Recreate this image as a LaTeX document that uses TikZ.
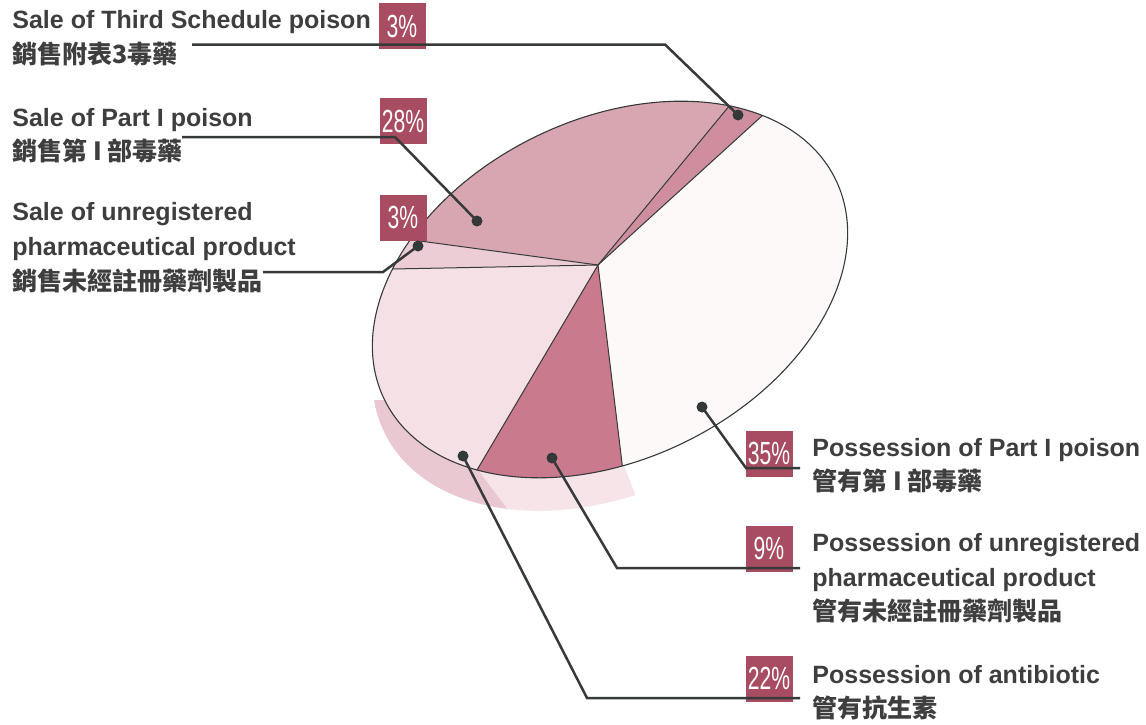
\documentclass[tikz,border=0pt]{standalone}
\usepackage{fontspec}
\setmainfont{Liberation Sans}
\newfontfamily\cjk{Noto Sans CJK TC}
\newfontfamily\narrowf[FakeStretch=0.66]{Liberation Sans}
\definecolor{txt}{RGB}{62,62,62}
\definecolor{boxc}{RGB}{168,76,98}
\definecolor{linec}{RGB}{55,58,58}
\definecolor{dotc}{RGB}{50,55,55}
\definecolor{cA}{RGB}{216,166,177}% 28%
\definecolor{cB}{RGB}{206,142,158}% 3% third
\definecolor{cC}{RGB}{253,249,249}% 35%
\definecolor{cD}{RGB}{202,122,141}% 9%
\definecolor{cE}{RGB}{244,224,229}% 22%
\definecolor{cF}{RGB}{236,205,213}% 3% unreg
\definecolor{shA}{RGB}{234,200,210}
\definecolor{shB}{RGB}{246,228,233}
\begin{document}
\begin{tikzpicture}[x=0.5pt,y=-0.5pt,
  en/.style={anchor=base west,inner sep=0,text=txt,font=\fontsize{12.5}{15}\selectfont\bfseries},
  zh/.style={anchor=base west,inner sep=0,text=txt,font=\fontsize{12.5}{15}\selectfont\cjk\bfseries},
  pct/.style={fill=boxc,text=white,minimum width=23.5pt,minimum height=23pt,inner sep=0,font=\fontsize{16}{18}\selectfont\narrowf},
  dot/.style={circle,fill=dotc,inner sep=0,minimum size=5.5pt},
  leader/.style={draw=linec,line width=1.25pt},
  rim/.style={draw=linec,line width=0.55pt},
  sliceline/.style={draw=linec,line width=0.5pt},
  pieshape/.style={rotate around={26:(610,289.5)}}]
\useasboundingbox (0,0) rectangle (1146,724);
\fill[white] (0,0) rectangle (1146,724);

% extrusion / shadow
\begin{scope}
  \clip (340,400) -- (447,400) -- (447,428) -- (522,528) -- (340,528) -- cycle;
  \fill[shA,rotate around={26:(610,322.5)}] (610,322.5) ellipse [x radius=251,y radius=170];
\end{scope}
\begin{scope}
  \clip (447,428) -- (447,300) -- (620,300) -- (620,455) -- (645,520) -- (522,528) -- cycle;
  \fill[shB,rotate around={26:(610,322.5)}] (610,322.5) ellipse [x radius=251,y radius=170];
\end{scope}

% pie
\coordinate (A) at (598,265);
\coordinate (E1) at (1093,-185);
\coordinate (E2) at (994,-215);
\coordinate (E3) at (64,193);
\coordinate (E4) at (-20,277);
\coordinate (E5) at (235,880);
\coordinate (E6) at (670,859);
\begin{scope}
  \clip[pieshape] (610,289.5) ellipse [x radius=251,y radius=170];
  \fill[cC] (A) -- (E6) -- (1300,860) -- (1300,-300) -- (E1) -- cycle;
  \fill[cB] (A) -- (E1) -- (E2) -- cycle;
  \fill[cA] (A) -- (E2) -- (900,-400) -- (-100,-400) -- (E3) -- cycle;
  \fill[cF] (A) -- (E3) -- (E4) -- cycle;
  \fill[cE] (A) -- (E4) -- (-100,900) -- (E5) -- cycle;
  \fill[cD] (A) -- (E5) -- (E6) -- cycle;
  \foreach \e in {E1,E2,E3,E4,E5,E6} \draw[sliceline] (A) -- (\e);
\end{scope}
\draw[rim,pieshape] (610,289.5) ellipse [x radius=251,y radius=170];

% percentage boxes
\node[pct] (p1) at (402,26) {3\%};
\node[pct] (p2) at (403,121) {28\%};
\node[pct] (p3) at (403,217.5) {3\%};
\node[pct] (p4) at (769,453.5) {35\%};
\node[pct] (p5) at (769,548.5) {9\%};
\node[pct] (p6) at (769,678.5) {22\%};

% labels left
\node[en] (l1a) at (12,28) {Sale of Third Schedule poison};
\node[zh] (l1b) at (12,63) {銷售附表3毒藥};
\node[en] (l2a) at (12,126) {Sale of Part I poison};
\node[zh] (l2b) at (12,160) {銷售第 I 部毒藥};
\node[en] (l3a) at (12,220) {Sale of unregistered};
\node[en] (l3b) at (12,255) {pharmaceutical product};
\node[zh] (l3c) at (12,290) {銷售未經註冊藥劑製品};
% labels right
\node[en] (r1a) at (812,456) {Possession of Part I poison};
\node[zh] (r1b) at (812,490) {管有第 I 部毒藥};
\node[en] (r2a) at (812,551) {Possession of unregistered};
\node[en] (r2b) at (812,586) {pharmaceutical product};
\node[zh] (r2c) at (812,620) {管有未經註冊藥劑製品};
\node[en] (r3a) at (812,683) {Possession of antibiotic};
\node[zh] (r3b) at (812,717) {管有抗生素};

% dots
\node[dot] (d1) at (738,115) {};
\node[dot] (d2) at (477,221) {};
\node[dot] (d3) at (418,246) {};
\node[dot] (d4) at (702,407) {};
\node[dot] (d5) at (552,458) {};
\node[dot] (d6) at (463,456) {};

% leader coordinates
\coordinate (s1) at (192,44.5); \coordinate (k1) at (665,44.5);
\coordinate (s2) at (182,137);  \coordinate (k2) at (395,137);
\coordinate (s3) at (263,272);  \coordinate (k3) at (383,272);
\coordinate (s4) at (800,468);  \coordinate (k4) at (746,468);
\coordinate (s5) at (800,568);  \coordinate (k5) at (617,568);
\coordinate (s6) at (800,698);  \coordinate (k6) at (587,698);

\draw[leader] (s1) -- (k1) -- (d1.center);
\draw[leader] (s2) -- (k2) -- (d2.center);
\draw[leader] (s3) -- (k3) -- (d3.center);
\draw[leader] (d4.center) -- (k4) -- (s4);
\draw[leader] (d5.center) -- (k5) -- (s5);
\draw[leader] (d6.center) -- (k6) -- (s6);
\end{tikzpicture}
\end{document}
